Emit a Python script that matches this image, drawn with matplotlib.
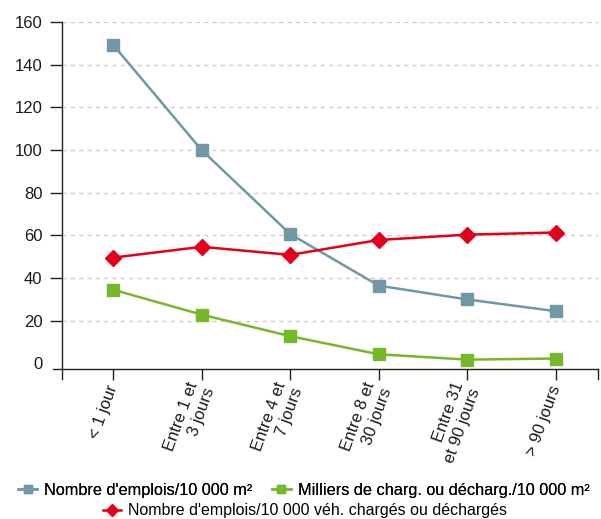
import matplotlib
matplotlib.use("Agg")
import matplotlib.pyplot as plt
from matplotlib.lines import Line2D

plt.rcParams['font.family'] = ['Liberation Sans', 'DejaVu Sans']

categories = ["< 1 jour", "Entre 1 et\n3 jours", "Entre 4 et\n7 jours",
              "Entre 8 et\n30 jours", "Entre 31\net 90 jours", "> 90 jours"]
emplois_m2 = [149.4, 100, 60.6, 36.4, 29.9, 24.4]
milliers_charg = [34.5, 22.8, 12.7, 4.2, 1.7, 2.2]
emplois_veh = [49.5, 54.6, 50.8, 57.8, 60.3, 61.3]
yticks = [0, 20, 40, 60, 80, 100, 120, 140, 160]

c_grey = "#7198A4"
c_green = "#77B82A"
c_red = "#E3001B"
c_axis = "#222222"

W, H = 601, 519
fig = plt.figure(figsize=(W / 100, H / 100), dpi=100)
ax = fig.add_axes([62 / W, 1 - 369 / H, (598 - 62) / W, (369 - 22) / H])

x = list(range(len(categories)))
ax.plot(x, emplois_m2, color=c_grey, lw=1.8, marker='s', ms=8, zorder=3)
ax.plot(x, milliers_charg, color=c_green, lw=1.8, marker='s', ms=8, zorder=3)
ax.plot(x, emplois_veh, color=c_red, lw=1.8, marker='D', ms=8, zorder=4)

ax.set_xlim(-0.575, 5.475)
ax.set_ylim(-2.7, 160)
ax.set_yticks(yticks)
ax.set_yticklabels([str(v) for v in yticks], fontsize=12, color="#1a1a1a")
ax.set_xticks(x)
ax.set_xticklabels(categories, rotation=70, ha='right', va='center',
                   rotation_mode='anchor', fontsize=12, color="#1a1a1a",
                   multialignment='right')
ax.tick_params(axis='x', length=8, width=1, pad=4, direction='out', color=c_axis)
ax.tick_params(axis='y', length=9, width=1, pad=5, direction='out', color=c_axis)
ax.yaxis.get_major_ticks()[0].tick1line.set_visible(False)

# extend axis lines past the crossing
ax.plot([0, 0], [0, -0.028], transform=ax.transAxes, color=c_axis, lw=1, clip_on=False)
ax.plot([1, 1], [0, -0.028], transform=ax.transAxes, color=c_axis, lw=1, clip_on=False)
ax.plot([-9.5 / 536, 0], [0, 0], transform=ax.transAxes, color=c_axis, lw=1, clip_on=False)

for v in yticks[1:]:
    ax.axhline(v, linestyle=(0, (3, 3)), color="#cccccc", lw=1, zorder=0)
for s in ['top', 'right']:
    ax.spines[s].set_visible(False)
for s in ['left', 'bottom']:
    ax.spines[s].set_color(c_axis)
    ax.spines[s].set_linewidth(1)

h1 = Line2D([], [], color=c_grey, lw=1.8, marker='s', ms=6)
h2 = Line2D([], [], color=c_green, lw=1.8, marker='s', ms=6)
h3 = Line2D([], [], color=c_red, lw=1.8, marker='D', ms=6)
leg1 = fig.legend([h1, h2], ["Nombre d'emplois/10 000 m²", "Milliers de charg. ou décharg./10 000 m²"],
                  loc='center', bbox_to_anchor=(304 / W, 1 - 490 / H), ncol=2, frameon=False,
                  fontsize=11.7, handlelength=1.15, handletextpad=0.45, columnspacing=1.2,
                  borderpad=0, borderaxespad=0)
leg2 = fig.legend([h3], ["Nombre d'emplois/10 000 véh. chargés ou déchargés"],
                  loc='center', bbox_to_anchor=(305 / W, 1 - 511 / H), frameon=False,
                  fontsize=11.5, handlelength=1.15, handletextpad=0.45,
                  borderpad=0, borderaxespad=0)
fig.add_artist(leg1)

fig.savefig("out.png", dpi=100)
